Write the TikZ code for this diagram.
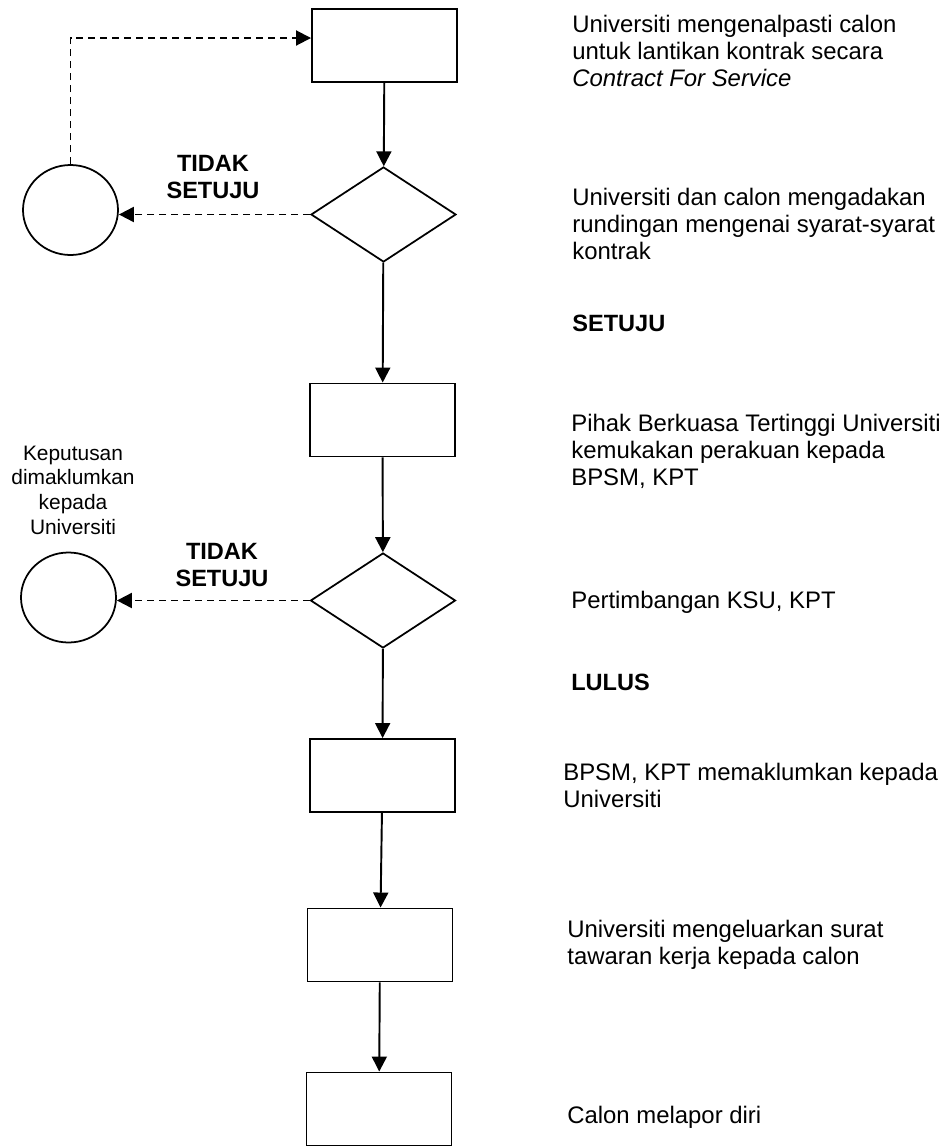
\documentclass[tikz,border=0pt]{standalone}
\usepackage{fontspec}
\setmainfont{Liberation Sans}
\usepackage{tikz}
\usetikzlibrary{arrows.meta,calc,positioning,shapes.geometric}

\tikzset{
  proc/.style={draw,line width=1.1pt,rectangle,minimum width=29mm,minimum height=14.6mm,inner sep=0pt},
  decide/.style={draw,line width=1pt,diamond,minimum width=29mm,minimum height=19mm,inner sep=0pt},
  stopper/.style={draw,line width=1pt,ellipse,minimum width=19mm,minimum height=18mm,inner sep=0pt},
  note/.style={anchor=west,align=left,inner sep=0pt,font=\fontsize{13.6}{15.4}\selectfont},
  verdict/.style={align=center,inner sep=0pt,font=\fontsize{13.4}{15.4}\selectfont\bfseries},
  flow/.style={line width=1.1pt,-{Triangle[length=3mm,width=3mm]}},
  noflow/.style={flow,dash pattern=on 1.4mm off 1mm},
}

\begin{document}
\begin{tikzpicture}[x=0.2mm,y=-0.2mm]
  \useasboundingbox (0,0) rectangle (951,1146);
%
  \node[proc]   (b1) at (384.5,45.5) {};
  \node[decide] (d1) at (383.5,214.5) {};
  \node[stopper] (c1) at (70.5,210) {};
  \node[proc]   (b2) at (382.5,420) {};
  \node[decide] (d2) at (383,600.5) {};
  \node[stopper] (c2) at (68.5,597.5) {};
  \node[proc]   (b3) at (382.5,775.5) {};
  \node[proc]   (b4) at (380,945) {};
  \node[proc]   (b5) at (379,1109) {};
%
  \node[verdict] (t1) at (213,177) {TIDAK\\SETUJU};
  \node[verdict] (t2) at (222,565) {TIDAK\\SETUJU};
  \node[align=center,inner sep=0pt,font=\fontsize{11.9}{14}\selectfont] (kep) at (73,490)
    {Keputusan\\dimaklumkan\\kepada\\Universiti};
%
  \node[note] (n1) at (572,51) {Universiti mengenalpasti calon\\untuk lantikan kontrak secara\\\textit{Contract For Service}};
  \node[note] (n2) at (572,224) {Universiti dan calon mengadakan\\rundingan mengenai syarat-syarat\\kontrak};
  \node[note,font=\fontsize{13.4}{15.4}\selectfont\bfseries] (s1) at (572,323) {SETUJU};
  \node[note] (n3) at (571,451) {Pihak Berkuasa Tertinggi Universiti\\kemukakan perakuan kepada\\BPSM, KPT};
  \node[note] (n4) at (571,602) {Pertimbangan KSU, KPT};
  \node[note,font=\fontsize{13.4}{15.4}\selectfont\bfseries] (s2) at (571,682) {LULUS};
  \node[note] (n5) at (563,785) {BPSM, KPT memaklumkan kepada\\Universiti};
  \node[note] (n6) at (567,945) {Universiti mengeluarkan surat\\tawaran kerja kepada calon};
  \node[note] (n7) at (567,1117) {Calon melapor diri};
%
  \draw[flow] (b1) -- (d1);
  \draw[flow] (d1) -- (b2);
  \draw[flow] (b2) -- (d2);
  \draw[flow] (d2) -- (b3);
  \draw[flow] (b3) -- (b4);
  \draw[flow] (b4) -- (b5);
  \draw[noflow] (d1.west) -- (d1.west -| c1.east);
  \draw[noflow] (d2.west) -- (d2.west -| c2.east);
  \coordinate (back) at ($(b1.north west)!0.4!(b1.south west)$);
  \draw[noflow] (c1.north) |- (back);

\end{tikzpicture}
\end{document}
